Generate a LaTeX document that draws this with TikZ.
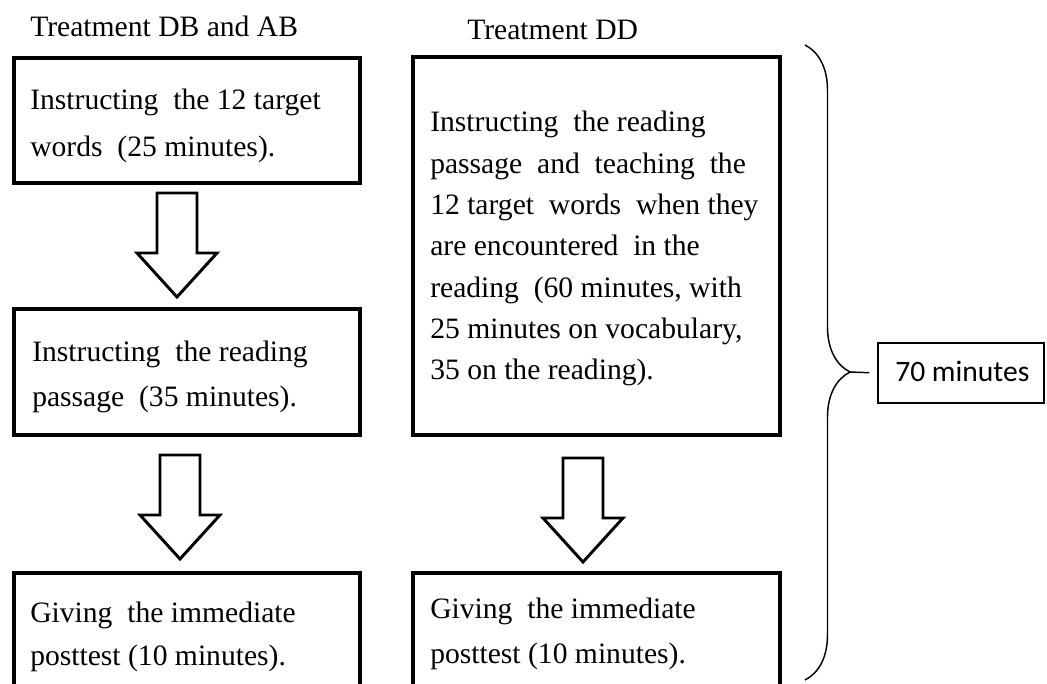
\documentclass[tikz,border=0pt]{standalone}
\usepackage{fontspec}
\setmainfont{Liberation Serif}
\newfontfamily\calibri{Carlito}
\usetikzlibrary{decorations.pathreplacing,calc}
\begin{document}
\begin{tikzpicture}[x=0.75pt,y=-0.75pt,
  box/.style={draw, line width=3pt, rectangle, inner sep=0pt},
  thinbox/.style={draw, line width=1.1pt, rectangle, inner sep=0pt},
  txt/.style={anchor=base west, inner sep=0pt, font=\fontsize{22.2pt}{33.75pt}\selectfont},
  title/.style={anchor=base west, inner sep=0pt, font=\fontsize{22.2pt}{26pt}\selectfont},
  hollow/.style={draw, line width=2.2pt, fill=white, line join=miter},
  bracestyle/.style={draw, line width=1.1pt, decorate, decoration={brace, amplitude=33.75pt, aspect=0.515}}]
\useasboundingbox (0,0) rectangle (1047,684);
\clip (0,0) rectangle (1047,684);
% titles
\node[title] (tl) at (30,37) {Treatment DB and AB};
\node[title] (tr) at (467,40) {Treatment DD};
% boxes
\node[box, minimum width=259.5pt, minimum height=93.75pt] (b1) at (187,120.5) {};
\node[box, minimum width=259.5pt, minimum height=94.5pt] (b2) at (187,372) {};
\node[box, minimum width=259.5pt, minimum height=110.25pt] (b3) at (187,646.5) {};
\node[box, minimum width=275.25pt, minimum height=283.5pt] (r1) at (596.5,246) {};
\node[box, minimum width=275.25pt, minimum height=110.25pt] (r2) at (596.5,646.5) {};
% texts
\node[txt, font=\fontsize{22.2pt}{35.25pt}\selectfont] (t1) at (30,110) {\begin{tabular}[t]{@{}l@{}}Instructing \ the 12 target\\ words \ (25 minutes).\end{tabular}};
\node[txt] (t2) at (32,362) {\begin{tabular}[t]{@{}l@{}}Instructing \ the reading\\ passage \ (35 minutes).\end{tabular}};
\node[txt, font=\fontsize{22.2pt}{32.5pt}\selectfont] (t3) at (30,622) {\begin{tabular}[t]{@{}l@{}}Giving \ the immediate\\ posttest (10 minutes).\end{tabular}};
\node[txt, font=\fontsize{22.2pt}{31pt}\selectfont] (t4) at (430,132) {\begin{tabular}[t]{@{}l@{}}Instructing \ the reading\\ passage \ and \ teaching \ the\\ 12 target \ words \ when they\\ are encountered \ in the\\ reading \ (60 minutes, with\\ 25 minutes on vocabulary,\\ 35 on the reading).\end{tabular}};
\node[txt] (t5) at (430,618) {\begin{tabular}[t]{@{}l@{}}Giving \ the immediate\\ posttest (10 minutes).\end{tabular}};
% block arrows
\coordinate (a1) at (177,193);
\coordinate (a2) at (180,455);
\coordinate (a3) at (583,458);
\foreach \a in {a1,a2,a3}{
  \draw[hollow] (\a) ++(-20,0) -- ++(40,0) -- ++(0,60) -- ++(20,0) -- ++(-40,44) -- ++(-40,-44) -- ++(20,0) -- cycle;
}
% brace
\node[thinbox, minimum width=124.5pt, minimum height=45pt] (m70) at (961,373) {};
\node[anchor=base west, inner sep=0pt, font=\calibri\fontsize{22.2pt}{26pt}\selectfont] (t70) at (895,382) {70 minutes};
\draw[bracestyle] (805,45) -- (805,680);
\coordinate (bt) at (850,372);
\draw[line width=1.1pt, shorten >=6pt] (bt) -- (m70.west);
\end{tikzpicture}
\end{document}
